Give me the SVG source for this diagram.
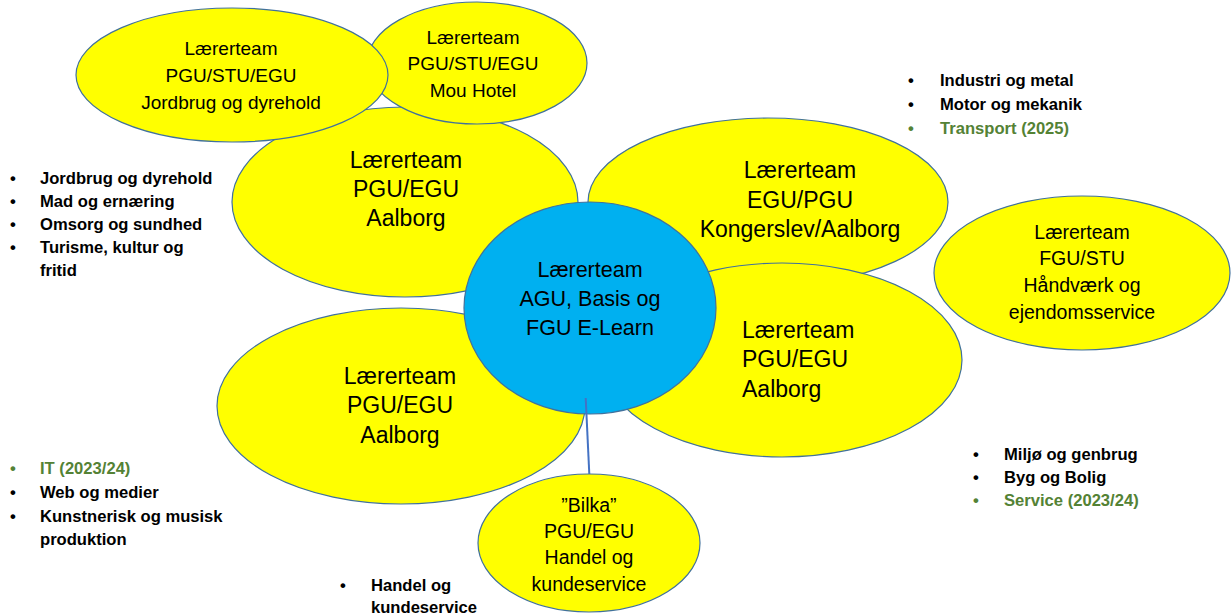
<svg xmlns="http://www.w3.org/2000/svg" width="1232" height="616" viewBox="0 0 1232 616">
<style>
.y{fill:#FFFF00;stroke:#41719C;stroke-width:1.2}
.b{fill:#00B0F0;stroke:#41719C;stroke-width:1.2}
.t{font-family:"Liberation Sans",Arial,sans-serif;fill:#000;text-anchor:middle}
.s{font-size:19px}
.m{font-size:23px}
.l{font-family:"Liberation Sans",Arial,sans-serif;font-weight:bold;font-size:16.6px;fill:#000}
.g{fill:#548235}
.c{stroke:#4472C4;stroke-width:2;fill:none}
</style>
<rect width="1232" height="616" fill="#fff"/>
<g id="node-c">
<ellipse class="y" cx="405" cy="202" rx="173" ry="95"/>
<text class="t m"><tspan x="406" y="168">Lærerteam</tspan><tspan x="406" y="197">PGU/EGU</tspan><tspan x="406" y="226">Aalborg</tspan></text>
</g>
<g id="node-b">
<ellipse class="y" cx="477" cy="63" rx="110" ry="61"/>
<text class="t s"><tspan x="473" y="44">Lærerteam</tspan><tspan x="473" y="70">PGU/STU/EGU</tspan><tspan x="473" y="97">Mou Hotel</tspan></text>
</g>
<g id="node-a">
<ellipse class="y" cx="232" cy="75" rx="156" ry="67"/>
<text class="t s"><tspan x="231" y="55">Lærerteam</tspan><tspan x="231" y="82">PGU/STU/EGU</tspan><tspan x="231" y="109">Jordbrug og dyrehold</tspan></text>
</g>
<g id="node-d">
<ellipse class="y" cx="768" cy="202" rx="180" ry="84"/>
<text class="t m"><tspan x="800" y="178">Lærerteam</tspan><tspan x="800" y="208">EGU/PGU</tspan><tspan x="800" y="237">Kongerslev/Aalborg</tspan></text>
</g>
<g id="node-e">
<ellipse class="y" cx="1082" cy="273" rx="148" ry="77"/>
<text class="t" style="font-size:19.5px"><tspan x="1082" y="239">Lærerteam</tspan><tspan x="1082" y="265">FGU/STU</tspan><tspan x="1082" y="292">Håndværk og</tspan><tspan x="1082" y="319">ejendomsservice</tspan></text>
</g>
<g id="node-f">
<ellipse class="y" cx="782" cy="360" rx="180" ry="97"/>
<text class="t m" style="text-anchor:start"><tspan x="742" y="338">Lærerteam</tspan><tspan x="742" y="367">PGU/EGU</tspan><tspan x="742" y="397">Aalborg</tspan></text>
</g>
<g id="node-h">
<ellipse class="y" cx="401" cy="406" rx="184" ry="98"/>
<text class="t m"><tspan x="400" y="384">Lærerteam</tspan><tspan x="400" y="413">PGU/EGU</tspan><tspan x="400" y="443">Aalborg</tspan></text>
</g>
<g id="node-i">
<ellipse class="y" cx="589" cy="543" rx="111" ry="69"/>
<text class="t" style="font-size:19.5px"><tspan x="589" y="512">”Bilka”</tspan><tspan x="589" y="538">PGU/EGU</tspan><tspan x="589" y="564">Handel og</tspan><tspan x="589" y="591">kundeservice</tspan></text>
</g>
<g id="node-g">
<ellipse class="b" cx="590" cy="308" rx="126" ry="106"/>
<text class="t" style="font-size:21.5px"><tspan x="590" y="277">Lærerteam</tspan><tspan x="590" y="306">AGU, Basis og</tspan><tspan x="590" y="335">FGU E-Learn</tspan></text>
</g>
<g id="connectors">
<line class="c" x1="585.7" y1="398" x2="589.3" y2="474"/>
</g>
<g id="list-left-top" class="l">
<text><tspan x="10" y="184">•</tspan><tspan x="40" y="184">Jordbrug og dyrehold</tspan></text>
<text><tspan x="10" y="207">•</tspan><tspan x="40" y="207">Mad og ernæring</tspan></text>
<text><tspan x="10" y="230">•</tspan><tspan x="40" y="230">Omsorg og sundhed</tspan></text>
<text><tspan x="10" y="253">•</tspan><tspan x="40" y="253">Turisme, kultur og</tspan></text>
<text x="40" y="276">fritid</text>
</g>
<g id="list-right-top" class="l">
<text><tspan x="908" y="86">•</tspan><tspan x="940" y="86">Industri og metal</tspan></text>
<text><tspan x="908" y="110">•</tspan><tspan x="940" y="110">Motor og mekanik</tspan></text>
<text class="g"><tspan x="908" y="134">•</tspan><tspan x="940" y="134">Transport (2025)</tspan></text>
</g>
<g id="list-left-bottom" class="l">
<text class="g"><tspan x="10" y="474">•</tspan><tspan x="40" y="474">IT (2023/24)</tspan></text>
<text><tspan x="10" y="498">•</tspan><tspan x="40" y="498">Web og medier</tspan></text>
<text><tspan x="10" y="522">•</tspan><tspan x="40" y="522">Kunstnerisk og musisk</tspan></text>
<text x="40" y="545">produktion</text>
</g>
<g id="list-right-bottom" class="l">
<text><tspan x="973" y="460">•</tspan><tspan x="1004" y="460">Miljø og genbrug</tspan></text>
<text><tspan x="973" y="483">•</tspan><tspan x="1004" y="483">Byg og Bolig</tspan></text>
<text class="g"><tspan x="973" y="506">•</tspan><tspan x="1004" y="506">Service (2023/24)</tspan></text>
</g>
<g id="list-bottom" class="l">
<text><tspan x="340" y="591">•</tspan><tspan x="371" y="591">Handel og</tspan></text>
<text x="371" y="613">kundeservice</text>
</g>
</svg>
